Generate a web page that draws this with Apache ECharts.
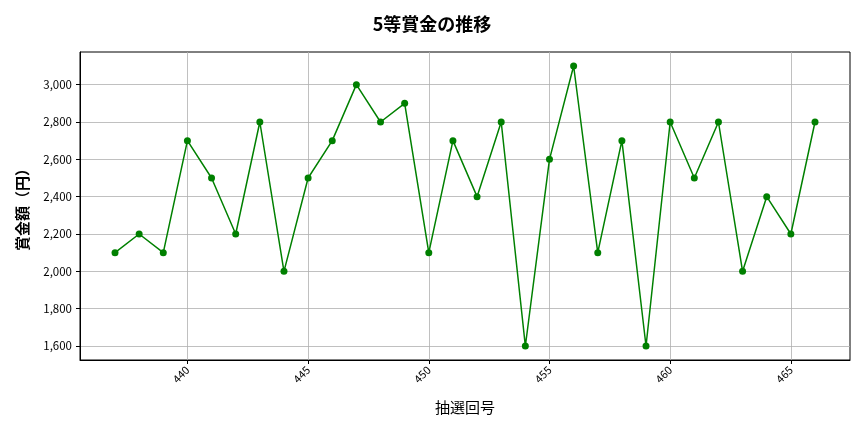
<!DOCTYPE html>
<html>
<head>
<meta charset="utf-8">
<script src="https://cdn.jsdelivr.net/npm/echarts@6/dist/echarts.min.js"></script>
<style>
  html, body { margin: 0; padding: 0; background: #fff; }
  #main { width: 864px; height: 432px; }
</style>
</head>
<body>
<div id="main"></div>
<script>
var draws = [437, 438, 439, 440, 441, 442, 443, 444, 445, 446, 447, 448, 449, 450, 451,
             452, 453, 454, 455, 456, 457, 458, 459, 460, 461, 462, 463, 464, 465, 466];
var prizes = [2100, 2200, 2100, 2700, 2500, 2200, 2800, 2000, 2500, 2700, 3000, 2800, 2900, 2100, 2700,
              2400, 2800, 1600, 2600, 3100, 2100, 2700, 1600, 2800, 2500, 2800, 2000, 2400, 2200, 2800];
var xTicks = [440, 445, 450, 455, 460, 465];
var yTicks = [1600, 1800, 2000, 2200, 2400, 2600, 2800, 3000];

var font = '"Noto Sans CJK JP", "Noto Sans", sans-serif';
var myChart = echarts.init(document.getElementById('main'));
myChart.setOption({
  animation: false,
  title: {
    text: '5等賞金の推移',
    left: 'center',
    top: 10,
    textStyle: { fontFamily: font, fontSize: 18, fontWeight: 'bold', color: '#000' }
  },
  grid: { left: 80, right: 14, top: 52, bottom: 72, show: true, borderColor: '#000', borderWidth: 1 },
  xAxis: {
    type: 'value',
    min: 435.55,
    max: 467.45,
    name: '抽選回号',
    nameLocation: 'middle',
    nameGap: 40,
    nameTextStyle: { fontFamily: font, fontSize: 15, color: '#000' },
    axisLine: { show: true, lineStyle: { color: '#000' } },
    axisTick: { show: true, customValues: xTicks, length: 4, lineStyle: { color: '#000' } },
    axisLabel: { customValues: xTicks, rotate: 45, color: '#000', fontFamily: font, fontSize: 11, margin: 8 },
    splitLine: { show: true, lineStyle: { color: '#b0b0b0', width: 0.8 } }
  },
  yAxis: {
    type: 'value',
    min: 1525,
    max: 3175,
    name: '賞金額（円）',
    nameLocation: 'middle',
    nameGap: 50,
    nameTextStyle: { fontFamily: font, fontSize: 15, fontWeight: 'bold', color: '#000' },
    axisLine: { show: true, lineStyle: { color: '#000' } },
    axisTick: { show: true, customValues: yTicks, length: 4, lineStyle: { color: '#000' } },
    axisLabel: {
      customValues: yTicks,
      color: '#000', fontFamily: font, fontSize: 11.5,
      formatter: function (v) { return v.toLocaleString('en-US'); }
    },
    splitLine: { show: true, lineStyle: { color: '#b0b0b0', width: 0.8 } }
  },
  series: [{
    type: 'line',
    data: draws.map(function (d, i) { return [d, prizes[i]]; }),
    symbol: 'circle',
    symbolSize: 7,
    lineStyle: { color: '#008000', width: 1.5 },
    itemStyle: { color: '#008000' }
  }]
});
</script>
</body>
</html>
